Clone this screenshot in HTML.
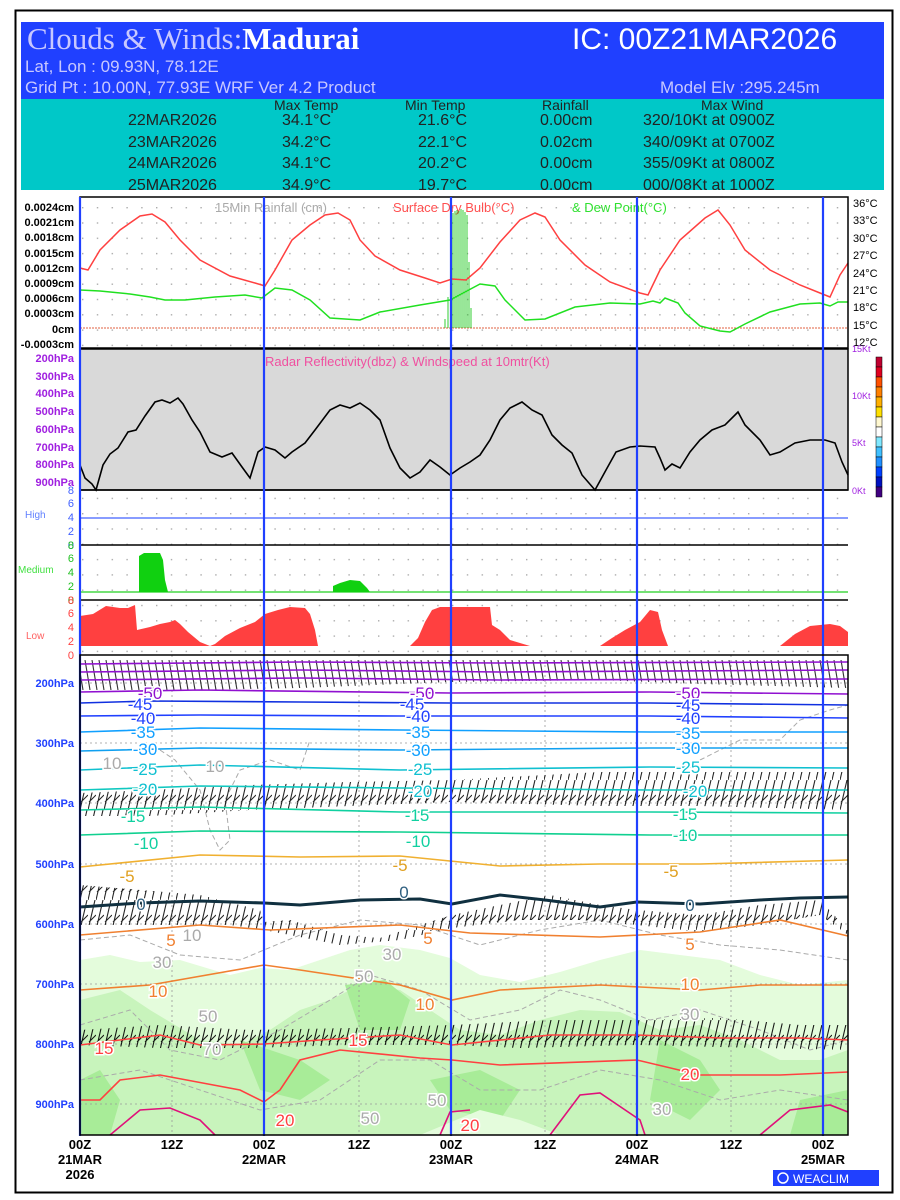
<!DOCTYPE html>
<html><head><meta charset="utf-8"><style>
html,body{margin:0;padding:0;background:#fff;}
svg{display:block;font-family:"Liberation Sans",sans-serif;}
</style></head><body>
<svg width="900" height="1200" viewBox="0 0 900 1200" xmlns="http://www.w3.org/2000/svg">
<defs>
<pattern id="barb" width="7" height="30" patternUnits="userSpaceOnUse">
<path d="M1 0 L6 30" stroke="#000" stroke-width="1.1" fill="none"/>
</pattern>
<pattern id="barb2" width="8" height="30" patternUnits="userSpaceOnUse">
<path d="M7 0 L0 30 M1 22 L8 15" stroke="#000" stroke-width="1.1" fill="none"/>
</pattern>
<pattern id="dots" width="14.8" height="15.3" patternUnits="userSpaceOnUse" x="82" y="207">
<rect x="0" y="0" width="1.4" height="1.4" fill="#aaa"/>
</pattern>
</defs>
<rect x="0" y="0" width="900" height="1200" fill="#fff"/>
<rect x="15.5" y="10.5" width="877" height="1182" fill="none" stroke="#000" stroke-width="2"/>
<!-- header -->
<rect x="21" y="22" width="863" height="77" fill="#2040ff"/>
<rect x="21" y="99" width="863" height="91" fill="#00c8c8"/>
<text x="27" y="49" font-family="Liberation Serif,serif" font-size="31" fill="#c8c8ff">Clouds &amp; Winds:<tspan fill="#fff" font-weight="bold">Madurai</tspan></text>
<text x="572" y="49" font-size="30" fill="#fff">IC: 00Z21MAR2026</text>
<text x="25" y="72" font-size="17" fill="#c8c8ff">Lat, Lon : 09.93N, 78.12E</text>
<text x="25" y="93" font-size="17" fill="#c8c8ff">Grid Pt  : 10.00N, 77.93E   WRF Ver 4.2 Product</text>
<text x="660" y="93" font-size="17" fill="#c8c8ff">Model Elv :295.245m</text>
<g font-size="16" fill="#222">
<text x="274" y="110" font-size="14">Max Temp</text><text x="405" y="110" font-size="14">Min Temp</text><text x="542" y="110" font-size="14">Rainfall</text><text x="701" y="110" font-size="14">Max Wind</text>
<text x="128" y="125">22MAR2026</text><text x="282" y="125">34.1°C</text><text x="418" y="125">21.6°C</text><text x="540" y="125">0.00cm</text><text x="643" y="125">320/10Kt at 0900Z</text>
<text x="128" y="147">23MAR2026</text><text x="282" y="147">34.2°C</text><text x="418" y="147">22.1°C</text><text x="540" y="147">0.02cm</text><text x="643" y="147">340/09Kt at 0700Z</text>
<text x="128" y="168">24MAR2026</text><text x="282" y="168">34.1°C</text><text x="418" y="168">20.2°C</text><text x="540" y="168">0.00cm</text><text x="643" y="168">355/09Kt at 0800Z</text>
<text x="128" y="190">25MAR2026</text><text x="282" y="190">34.9°C</text><text x="418" y="190">19.7°C</text><text x="540" y="190">0.00cm</text><text x="643" y="190">000/08Kt at 1000Z</text>
</g>
<!-- panel 1 -->
<rect x="80" y="197" width="768" height="151" fill="url(#dots)"/>
<text x="215" y="212" font-size="13" fill="#aaa">15Min Rainfall (cm)</text>
<text x="393" y="212" font-size="13" fill="#ff5050">Surface Dry Bulb(°C)</text>
<text x="572" y="212" font-size="13" fill="#30e030">&amp; Dew Point(°C)</text>
<line x1="80" y1="328" x2="848" y2="328" stroke="#e06040" stroke-width="1" stroke-dasharray="2,1"/>
<g stroke="#00c000" stroke-width="0.8">
<path d="M445 328V319M448 328V297M451 328V270M453 328V213M455 328V211M457 328V210M459 328V211M461 328V209M463 328V210M465 328V212M467 328V215M469 328V262M471 328V308"/></g>
<path d="M80 268L88 270L100 250L120 230L140 216L152 214L165 222L180 240L200 260L230 276L255 283L265 286L275 270L292 240L310 225L325 215L338 213L350 220L360 240L375 256L400 270L425 278L440 283L452 279L466 280L480 268L500 242L520 220L535 213L545 217L560 240L585 265L610 282L640 293L648 295L660 270L680 240L705 218L718 210L730 225L745 250L770 270L800 285L820 293L830 297L840 275L848 263" fill="none" stroke="#ff4040" stroke-width="1.5"/>
<path d="M80 290L100 291L130 294L150 297L165 300L185 300L215 297L245 295L262 298L275 288L292 290L310 300L330 318L360 320L380 312L420 305L450 300L465 292L480 284L495 286L505 300L525 320L545 319L575 307L610 303L640 304L653 301L660 303L665 298L678 303L685 313L700 326L720 331L730 332L745 324L770 312L800 304L820 303L830 306L838 302L848 302" fill="none" stroke="#20e020" stroke-width="1.5"/>
<rect x="80" y="197" width="768" height="151" fill="none" stroke="#000" stroke-width="1.5"/>
<g font-size="11" font-weight="bold" text-anchor="end" fill="#000">
<text x="74" y="211">0.0024cm</text><text x="74" y="226">0.0021cm</text><text x="74" y="241">0.0018cm</text><text x="74" y="257">0.0015cm</text><text x="74" y="272">0.0012cm</text><text x="74" y="287">0.0009cm</text><text x="74" y="302">0.0006cm</text><text x="74" y="317">0.0003cm</text><text x="74" y="333">0cm</text><text x="74" y="348">-0.0003cm</text>
</g>
<g font-size="11" fill="#000">
<text x="853" y="207">36°C</text><text x="853" y="224">33°C</text><text x="853" y="242">30°C</text><text x="853" y="259">27°C</text><text x="853" y="277">24°C</text><text x="853" y="294">21°C</text><text x="853" y="311">18°C</text><text x="853" y="329">15°C</text><text x="853" y="346">12°C</text>
</g>
<!-- radar panel -->
<rect x="80" y="349" width="768" height="141" fill="#d9d9d9" stroke="#000" stroke-width="1.5"/>
<text x="265" y="366" font-size="13" fill="#f050a0">Radar Reflectivity(dbz) &amp; Windspeed at 10mtr(Kt)</text>
<path d="M80 465L85 478L92 484L96 490L103 465L110 454L118 448L128 432L136 430L145 416L155 402L162 400L170 403L178 398L183 404L192 420L200 432L210 452L222 457L232 453L242 467L250 478L258 452L265 447L275 450L285 458L292 452L305 443L315 430L330 410L340 405L350 408L360 403L370 410L380 420L390 448L400 468L410 478L420 472L430 460L440 467L450 475L460 468L470 462L480 455L490 440L500 420L510 408L522 402L532 410L542 415L552 435L562 445L572 453L582 475L595 490L606 470L616 452L630 447L640 446L655 447L660 458L665 470L672 464L680 468L690 452L700 440L712 430L725 425L738 412L745 425L760 440L770 455L780 452L795 443L810 440L825 440L835 443L842 462L848 475" fill="none" stroke="#000" stroke-width="1.6"/>
<g font-size="11" font-weight="bold" text-anchor="end" fill="#a020e0">
<text x="74" y="362">200hPa</text><text x="74" y="380">300hPa</text><text x="74" y="397">400hPa</text><text x="74" y="415">500hPa</text><text x="74" y="433">600hPa</text><text x="74" y="451">700hPa</text><text x="74" y="468">800hPa</text><text x="74" y="486">900hPa</text>
</g>
<g font-size="9" fill="#a020e0"><text x="852" y="352">15Kt</text><text x="852" y="399">10Kt</text><text x="852" y="446">5Kt</text><text x="852" y="494">0Kt</text></g>
<!-- colorbar -->
<g stroke="#000" stroke-width="0.5">
<rect x="876" y="357" width="6" height="10" fill="#c00030"/><rect x="876" y="367" width="6" height="10" fill="#e00020"/><rect x="876" y="377" width="6" height="10" fill="#ff5000"/><rect x="876" y="387" width="6" height="10" fill="#ff8000"/><rect x="876" y="397" width="6" height="10" fill="#ffb000"/><rect x="876" y="407" width="6" height="10" fill="#ffe000"/><rect x="876" y="417" width="6" height="10" fill="#fff8d0"/><rect x="876" y="427" width="6" height="10" fill="#fff"/><rect x="876" y="437" width="6" height="10" fill="#80e8ff"/><rect x="876" y="447" width="6" height="10" fill="#40c0ff"/><rect x="876" y="457" width="6" height="10" fill="#2090ff"/><rect x="876" y="467" width="6" height="10" fill="#0040ff"/><rect x="876" y="477" width="6" height="10" fill="#0010c0"/><rect x="876" y="487" width="6" height="10" fill="#400080"/>
</g>
<!-- cloud panels -->
<rect x="80" y="490" width="768" height="165" fill="url(#dots)"/>
<line x1="80" y1="518" x2="848" y2="518" stroke="#4060ff" stroke-width="1.2"/>
<line x1="80" y1="592" x2="848" y2="592" stroke="#20d020" stroke-width="1.2"/>
<path d="M139 592V556L144 553H160L163 560L165 580L168 592Z" fill="#10d010"/>
<path d="M333 592V586L340 583L350 580L360 581L367 588L370 592Z" fill="#10d010"/>
<path d="M80 646V616L93 614L106 606L120 608L128 608L135 605L137 630L150 627L160 624L170 622L175 620L180 624L188 632L200 642L210 646L215 644L225 636L240 628L255 622L265 614L278 610L290 607L305 608L310 614L315 630L318 646L325 646L330 646V646L410 646L418 638L425 622L432 610L440 607L490 607L492 625L500 630L510 640L530 646L600 646L612 638L625 630L640 622L650 610L658 612L662 630L668 646L780 646L795 634L810 626L830 624L840 626L848 632V646Z" fill="#ff4040"/>
<line x1="80" y1="545" x2="848" y2="545" stroke="#000" stroke-width="1.5"/>
<line x1="80" y1="600" x2="848" y2="600" stroke="#000" stroke-width="1.5"/>
<line x1="80" y1="490" x2="848" y2="490" stroke="#000" stroke-width="1.5"/>
<g font-size="11" text-anchor="end">
<g fill="#4060ff"><text x="74" y="494">8</text><text x="74" y="507">6</text><text x="74" y="521">4</text><text x="74" y="535">2</text><text x="74" y="549">0</text></g>
<g fill="#20c020"><text x="74" y="549">8</text><text x="74" y="562">6</text><text x="74" y="576">4</text><text x="74" y="590">2</text><text x="74" y="604">0</text></g>
<g fill="#ff4040"><text x="74" y="604">8</text><text x="74" y="617">6</text><text x="74" y="631">4</text><text x="74" y="645">2</text><text x="74" y="659">0</text></g>
</g>
<text x="25" y="518" font-size="10" fill="#6080ff">High</text>
<text x="18" y="573" font-size="10" fill="#40e040">Medium</text>
<text x="26" y="639" font-size="10" fill="#ff6060">Low</text>
<!-- main panel -->
<rect x="80" y="655" width="768" height="480" fill="#fff"/>
<path d="M80 960L110 955L140 962L180 960L230 975L260 968L290 970L320 960L350 950L380 945L420 950L450 958L480 975L520 982L560 972L600 960L640 950L680 955L720 960L760 975L800 985L848 980V1135H80Z" fill="#e4fcdc"/>
<path d="M80 1000L120 990L150 1010L200 1040L240 1045L270 1030L300 1010L330 1000L360 985L400 990L430 1010L460 1030L500 1035L540 1020L580 1010L620 1012L660 1030L700 1025L740 1040L780 1060L820 1060L848 1050V1135H80Z" fill="#c8f4bc"/>
<path d="M240 1040L300 1060L330 1080L300 1100L260 1090Z M430 1080L480 1070L520 1090L500 1120L450 1110Z M345 985L385 980L410 1000L400 1030L360 1030Z M660 1040L700 1060L720 1090L690 1120L650 1100Z M80 1080L100 1070L120 1100L110 1135H80Z M800 1100L848 1090V1135H790Z" fill="#a8ec98"/>
<path d="M420 1135L480 1110L520 1120L560 1135Z" fill="#e4fcdc"/>
<!-- grid -->
<g stroke="#999" stroke-width="0.8" stroke-dasharray="2,3">
<line x1="80" y1="683" x2="848" y2="683"/><line x1="80" y1="743" x2="848" y2="743"/><line x1="80" y1="803" x2="848" y2="803"/><line x1="80" y1="864" x2="848" y2="864"/><line x1="80" y1="924" x2="848" y2="924"/><line x1="80" y1="984" x2="848" y2="984"/><line x1="80" y1="1044" x2="848" y2="1044"/><line x1="80" y1="1104" x2="848" y2="1104"/>
<line x1="172" y1="655" x2="172" y2="1135"/><line x1="359" y1="655" x2="359" y2="1135"/><line x1="545" y1="655" x2="545" y2="1135"/><line x1="731" y1="655" x2="731" y2="1135"/>
</g>
<!-- RH gray dashed contours -->
<g fill="none" stroke="#aaa" stroke-width="1" stroke-dasharray="5,3">
<path d="M80 940L130 935L180 955L240 960L300 935L360 920L420 925L480 945L540 930L600 920L660 935L720 945L780 950L848 960"/>
<path d="M80 1025L130 1010L170 1050L220 1060L280 1030L330 1000L370 975L420 990L470 1020L520 1010L560 990L600 1000L650 1020L700 1010L760 1030L810 1050L848 1040"/>
<path d="M80 1080L140 1070L200 1090L260 1110L320 1100L380 1060L430 1060L480 1090L540 1090L600 1070L660 1080L720 1100L780 1090L848 1100"/>
<path d="M160 750L175 760L200 790L210 830L220 850L230 840L225 800L240 770L270 760L300 770L310 740"/>
<path d="M700 760L740 740L780 740L800 720L830 710L848 705"/>
</g>
<!-- wind barb bands -->
<path d="M80 660H848V688L700 684L600 680L450 682L300 688L200 690L80 690Z" fill="url(#barb)" opacity="0.8"/>
<path d="M80 793L150 790L250 785L350 782L452 780L600 772L750 772L848 772V810L700 806L600 806L452 802L350 806L250 810L150 816L80 816Z" fill="url(#barb2)" opacity="0.85"/>
<path d="M80 885L140 890L200 895L260 910L264 922L290 920L340 935L380 938L420 925L452 915L500 905L550 895L600 905L637 910L700 915L760 905L820 900L848 930V935L820 915L760 925L700 932L637 925L580 920L520 920L452 928L400 940L340 945L290 935L264 930L230 925L200 925L150 925L80 925Z" fill="url(#barb2)" opacity="0.85"/>
<path d="M80 1030L160 1025L250 1030L350 1028L452 1025L550 1020L637 1020L720 1018L800 1025L848 1025V1050L760 1048L637 1045L520 1048L452 1045L350 1045L250 1048L160 1048L80 1045Z" fill="url(#barb2)" opacity="0.9"/>
<!-- isotherms -->
<g fill="none" stroke-width="1.6">
<path d="M80 664L300 662L500 663L848 662" stroke="#9010d0"/>
<path d="M80 672L300 670L500 672L848 670" stroke="#9010d0"/>
<path d="M80 680L300 678L500 680L848 679" stroke="#9010d0"/>
<path d="M80 692L200 690L450 693L650 692L848 694" stroke="#9010d0"/>
<path d="M80 703L150 701L300 702L450 703L650 703L848 705" stroke="#1030e0"/>
<path d="M80 716L200 715L400 716L650 716L848 718" stroke="#2040ff"/>
<path d="M80 732L200 728L400 730L650 732L848 732" stroke="#10a0ff"/>
<path d="M80 751L200 748L400 750L650 748L848 748" stroke="#10a0f0"/>
<path d="M80 770L200 765L400 770L650 767L848 768" stroke="#10c0d0"/>
<path d="M80 790L200 786L400 788L650 790L848 790" stroke="#10c8c0"/>
<path d="M80 810L200 807L400 812L650 812L848 813" stroke="#10d0a0"/>
<path d="M80 835L200 831L400 832L650 835L848 835" stroke="#10d090"/>
<path d="M80 867L200 855L300 857L400 856L500 866L600 864L700 864L848 860" stroke="#f0b030"/>
<path d="M80 935L200 925L270 930L400 925L470 933L600 937L700 932L780 920L848 936" stroke="#f08030"/>
<path d="M80 990L150 985L264 965L300 970L400 985L452 1000L500 990L600 985L700 990L760 985L848 985" stroke="#f08030"/>
<path d="M80 1045L160 1035L200 1045L264 1044L320 1040L400 1035L452 1045L550 1035L637 1035L720 1038L800 1038L848 1040" stroke="#ff4040"/>
<path d="M80 1100L100 1100L120 1080L160 1075L240 1090L264 1102L280 1090L300 1060L340 1050L420 1058L452 1060L500 1065L637 1060L700 1075L780 1075L848 1072" stroke="#ff4040"/>
<path d="M110 1135L140 1110L170 1108L200 1120L215 1135 M550 1135L580 1095L600 1093L640 1120L645 1135 M440 1135L450 1112L470 1110 M760 1135L790 1110L830 1105L848 1112" stroke="#e0107a"/>
</g>
<path d="M80 907L140 903L200 901L264 903L300 905L360 900L420 899L452 904L500 895L545 900L600 907L637 902L700 904L760 900L800 898L848 897" fill="none" stroke="#103040" stroke-width="3"/>
<!-- contour labels -->
<g font-size="17" text-anchor="middle" stroke="#fff" stroke-width="3" paint-order="stroke">
<g fill="#9010d0"><text x="150" y="699">-50</text><text x="422" y="699">-50</text><text x="688" y="699">-50</text></g>
<g fill="#2040ff"><text x="140" y="710">-45</text><text x="412" y="710">-45</text><text x="688" y="711">-45</text><text x="143" y="724">-40</text><text x="418" y="722">-40</text><text x="688" y="724">-40</text></g>
<g fill="#10a0ff"><text x="143" y="738">-35</text><text x="418" y="738">-35</text><text x="688" y="739">-35</text><text x="145" y="755">-30</text><text x="418" y="756">-30</text><text x="688" y="754">-30</text></g>
<g fill="#10c0d0"><text x="145" y="775">-25</text><text x="420" y="775">-25</text><text x="688" y="773">-25</text><text x="145" y="795">-20</text><text x="420" y="797">-20</text><text x="695" y="797">-20</text></g>
<g fill="#10d0a0"><text x="133" y="822">-15</text><text x="417" y="821">-15</text><text x="685" y="820">-15</text><text x="146" y="849">-10</text><text x="418" y="847">-10</text><text x="685" y="841">-10</text></g>
<g fill="#e0a020"><text x="127" y="882">-5</text><text x="400" y="871">-5</text><text x="671" y="877">-5</text></g>
<g fill="#306080"><text x="141" y="910">0</text><text x="404" y="898">0</text><text x="690" y="911">0</text></g>
<g fill="#f08030"><text x="171" y="946">5</text><text x="428" y="944">5</text><text x="690" y="950">5</text><text x="158" y="997">10</text><text x="425" y="1010">10</text><text x="690" y="990">10</text></g>
<g fill="#ff4040"><text x="104" y="1054">15</text><text x="358" y="1046">15</text><text x="690" y="1080">20</text><text x="285" y="1126">20</text><text x="470" y="1131">20</text></g>
<g fill="#aaa"><text x="112" y="769">10</text><text x="215" y="772">10</text><text x="162" y="968">30</text><text x="392" y="960">30</text><text x="690" y="1020">30</text><text x="208" y="1022">50</text><text x="364" y="982">50</text><text x="212" y="1055">70</text><text x="370" y="1124">50</text><text x="437" y="1106">50</text><text x="662" y="1115">30</text><text x="192" y="941">10</text></g>
</g>
<!-- day lines -->
<g stroke="#2040ff" stroke-width="2.2">
<line x1="80" y1="197" x2="80" y2="1136"/><line x1="264" y1="197" x2="264" y2="1136"/><line x1="451" y1="197" x2="451" y2="1136"/><line x1="637" y1="197" x2="637" y2="1136"/><line x1="823" y1="197" x2="823" y2="1136"/>
</g>
<rect x="80" y="655" width="768" height="480" fill="none" stroke="#000" stroke-width="1.5"/>
<g font-size="11" font-weight="bold" text-anchor="end" fill="#2040ff">
<text x="74" y="687">200hPa</text><text x="74" y="747">300hPa</text><text x="74" y="807">400hPa</text><text x="74" y="868">500hPa</text><text x="74" y="928">600hPa</text><text x="74" y="988">700hPa</text><text x="74" y="1048">800hPa</text><text x="74" y="1108">900hPa</text>
</g>
<g font-size="13" font-weight="bold" text-anchor="middle" fill="#000">
<text x="80" y="1149">00Z</text><text x="80" y="1164">21MAR</text><text x="80" y="1179">2026</text>
<text x="172" y="1149">12Z</text>
<text x="264" y="1149">00Z</text><text x="264" y="1164">22MAR</text>
<text x="359" y="1149">12Z</text>
<text x="451" y="1149">00Z</text><text x="451" y="1164">23MAR</text>
<text x="545" y="1149">12Z</text>
<text x="637" y="1149">00Z</text><text x="637" y="1164">24MAR</text>
<text x="731" y="1149">12Z</text>
<text x="823" y="1149">00Z</text><text x="823" y="1164">25MAR</text>
</g>
<rect x="773" y="1170" width="106" height="16" fill="#2040ff"/>
<circle cx="783" cy="1178" r="5" fill="none" stroke="#fff" stroke-width="1.5"/>
<text x="793" y="1183" font-size="12" fill="#fff">WEACLIM</text>
</svg>
</body></html>
